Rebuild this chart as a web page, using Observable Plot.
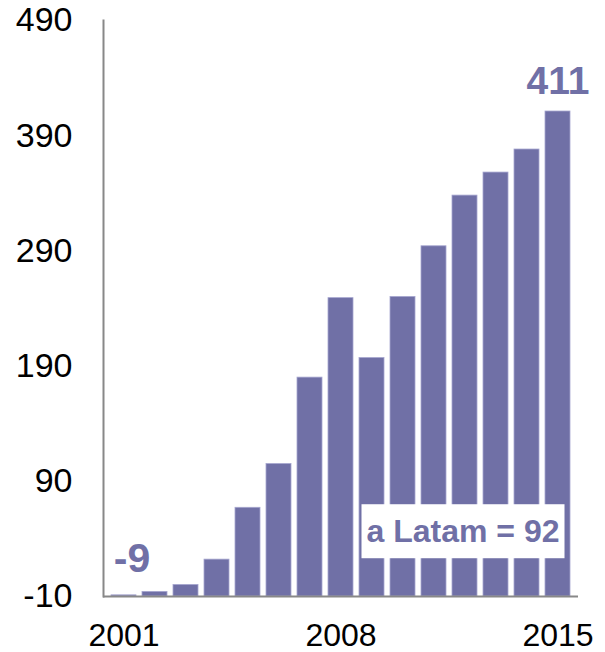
<!DOCTYPE html>
<html>
<head>
<meta charset="utf-8">
<script src="https://cdn.jsdelivr.net/npm/d3@7"></script>
<script src="https://cdn.jsdelivr.net/npm/@observablehq/plot@0.6"></script>
<style>
  html, body { margin: 0; padding: 0; background: #fff; }
  #chart { width: 605px; height: 652px; }
</style>
</head>
<body>
<div id="chart"></div>
<script>
const years = ["2001","2002","2003","2004","2005","2006","2007","2008","2009","2010","2011","2012","2013","2014","2015"];
const values = [-9, -6, 0, 22, 67, 105, 180, 249, 197, 250, 294, 338, 358, 378, 411];
const yTicks = [-10, 90, 190, 290, 390, 490];
const xTicks = ["2001", "2008", "2015"];
const baseValue = -10;
const firstLabel = { year: "2001", value: -9, text: "-9" };
const lastLabel = { year: "2015", value: 411, text: "411" };
const note = { year: "2012", value: 46, text: "a Latam = 92" };

const data = years.map((y, i) => ({ year: y, value: values[i] }));
const purple = "#7070a6";
const font = "'Liberation Sans', Arial, sans-serif";

const chart = Plot.plot({
  width: 605,
  height: 652,
  marginLeft: 103,
  marginRight: 27,
  marginTop: 20,
  marginBottom: 56,
  style: { fontFamily: font, background: "#fff", overflow: "visible" },
  x: { domain: years, paddingInner: 0.2, paddingOuter: 0.1, label: null },
  y: { domain: [-10, 490], label: null },
  marks: [
    Plot.barY(data, { x: "year", y1: baseValue, y2: "value", fill: purple, stroke: "#a6a6cf", strokeWidth: 0.8 }),
    Plot.ruleY([baseValue], { stroke: "#888", strokeWidth: 2 }),
    Plot.frame({ anchor: "left", stroke: "#888", strokeWidth: 2 }),
    Plot.axisY({ ticks: yTicks, tickSize: 0, tickPadding: 31, fontSize: 34, fill: "#000", tickFormat: d => String(d), label: null }),
    Plot.axisX({ ticks: xTicks, tickSize: 0, tickPadding: 27, fontSize: 32, fill: "#000", label: null }),
    Plot.text([firstLabel], { x: "year", y: "value", text: "text", fill: purple, fontWeight: "bold", fontSize: 41, lineAnchor: "bottom", dy: -23, dx: 8 }),
    Plot.text([lastLabel], { x: "year", y: "value", text: "text", fill: purple, fontWeight: "bold", fontSize: 39, lineAnchor: "bottom", dy: -18, dx: 0 }),
    Plot.text([note], { x: "year", y: "value", text: "text", fill: purple, fontWeight: "bold", fontSize: 32, dx: -2, className: "note-label" })
  ]
});
document.getElementById("chart").appendChild(chart);

// white box behind the annotation text
const noteG = chart.querySelector(".note-label") || [...chart.querySelectorAll("g")].find(g => g.textContent === note.text);
if (noteG) {
  const t = noteG.querySelector("text");
  const bb = t.getBBox();
  const rect = document.createElementNS("http://www.w3.org/2000/svg", "rect");
  rect.setAttribute("x", bb.x - 5);
  rect.setAttribute("y", bb.y - 9);
  rect.setAttribute("width", bb.width + 10);
  rect.setAttribute("height", bb.height + 18);
  rect.setAttribute("fill", "#fff");
  const tr = t.getAttribute("transform");
  if (tr) rect.setAttribute("transform", tr);
  t.parentNode.insertBefore(rect, t);
}
</script>
</body>
</html>
